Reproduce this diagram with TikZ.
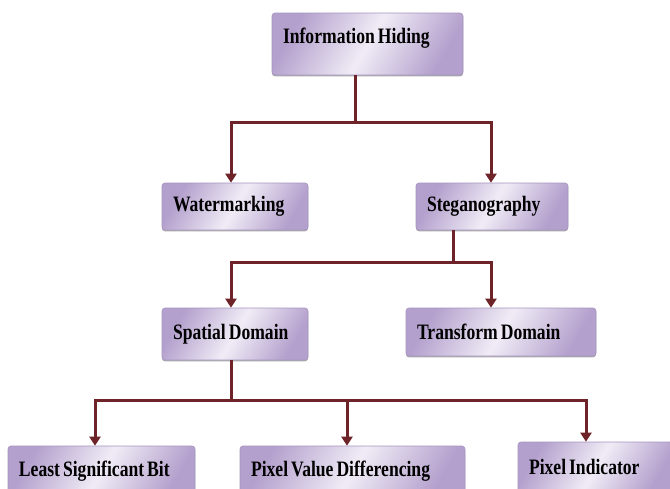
\documentclass[tikz,border=0pt]{standalone}
\usepackage{fontspec}
\newfontfamily\boxfont[FakeStretch=0.8]{Liberation Serif}
\DeclareRobustCommand\boxtext{\boxfont\bfseries\fontsize{22}{24}\selectfont\spaceskip=3pt\relax}
\usetikzlibrary{arrows.meta,shadows}
\definecolor{linkred}{RGB}{110,35,40}
\definecolor{boxedge}{RGB}{165,148,190}
\definecolor{boxdark}{RGB}{180,160,205}
\definecolor{boxlight}{RGB}{240,236,246}
\begin{document}
\begin{tikzpicture}[x=1pt,y=-1pt,
  hbox/.style={draw=boxedge,line width=0.6pt,rounded corners=3pt,
    preaction={fill=black!55,opacity=0.6,transform canvas={yshift=-1.4pt}},
    shade,shading=axis,left color=boxdark,right color=boxdark,middle color=boxlight,shading angle=60,
    inner xsep=11pt,inner ysep=0pt,align=flush left,font=\boxtext},
  link/.style={draw=linkred,line width=3pt},
  tip/.style={-{Triangle[width=11pt,length=9pt]}}]
\path[use as bounding box] (0,0) rectangle (670,488);
% boxes
\node[hbox,text width=169pt,minimum height=62pt,text height=15pt,text depth=17pt] (ih) at (367.5,44) {Information Hiding};
\node[hbox,text width=124pt,minimum height=47pt] (wm) at (235,206.5) {Watermarking};
\node[hbox,text width=130pt,minimum height=47pt] (st) at (492,206.5) {Steganography};
\node[hbox,text width=124pt,minimum height=52pt] (sd) at (235,334) {Spatial Domain};
\node[hbox,text width=168pt,minimum height=48pt] (td) at (501,332) {Transform Domain};
\node[hbox,text width=165pt,minimum height=50pt] (lsb) at (101.5,471) {Least Significant Bit};
\node[hbox,text width=203pt,minimum height=50pt] (pvd) at (352.5,471) {Pixel Value Differencing};
\node[hbox,text width=134pt,minimum height=50pt] (pi) at (596,467) {Pixel Indicator};
% junctions
\coordinate (j1) at (355,122);
\coordinate (j2) at (453,262);
\coordinate (j3) at (231,400);
% connectors
\draw[link] (ih.south -| j1) -- (j1);
\draw[link,tip] (j1) -| ([xshift=-4pt]wm.north);
\draw[link,tip] (j1) -| ([xshift=-1pt]st.north);
\draw[link] (st.south -| j2) -- (j2);
\draw[link,tip] (j2) -| ([xshift=-4pt]sd.north);
\draw[link,tip] (j2) -| ([xshift=-10pt]td.north);
\draw[link] (sd.south -| j3) -- (j3);
\draw[link,tip] (j3) -| ([xshift=-6.5pt]lsb.north);
\draw[link,tip] (j3) -| ([xshift=-5.5pt]pvd.north);
\draw[link,tip] (j3) -| ([xshift=-10pt]pi.north);
\end{tikzpicture}
\end{document}
